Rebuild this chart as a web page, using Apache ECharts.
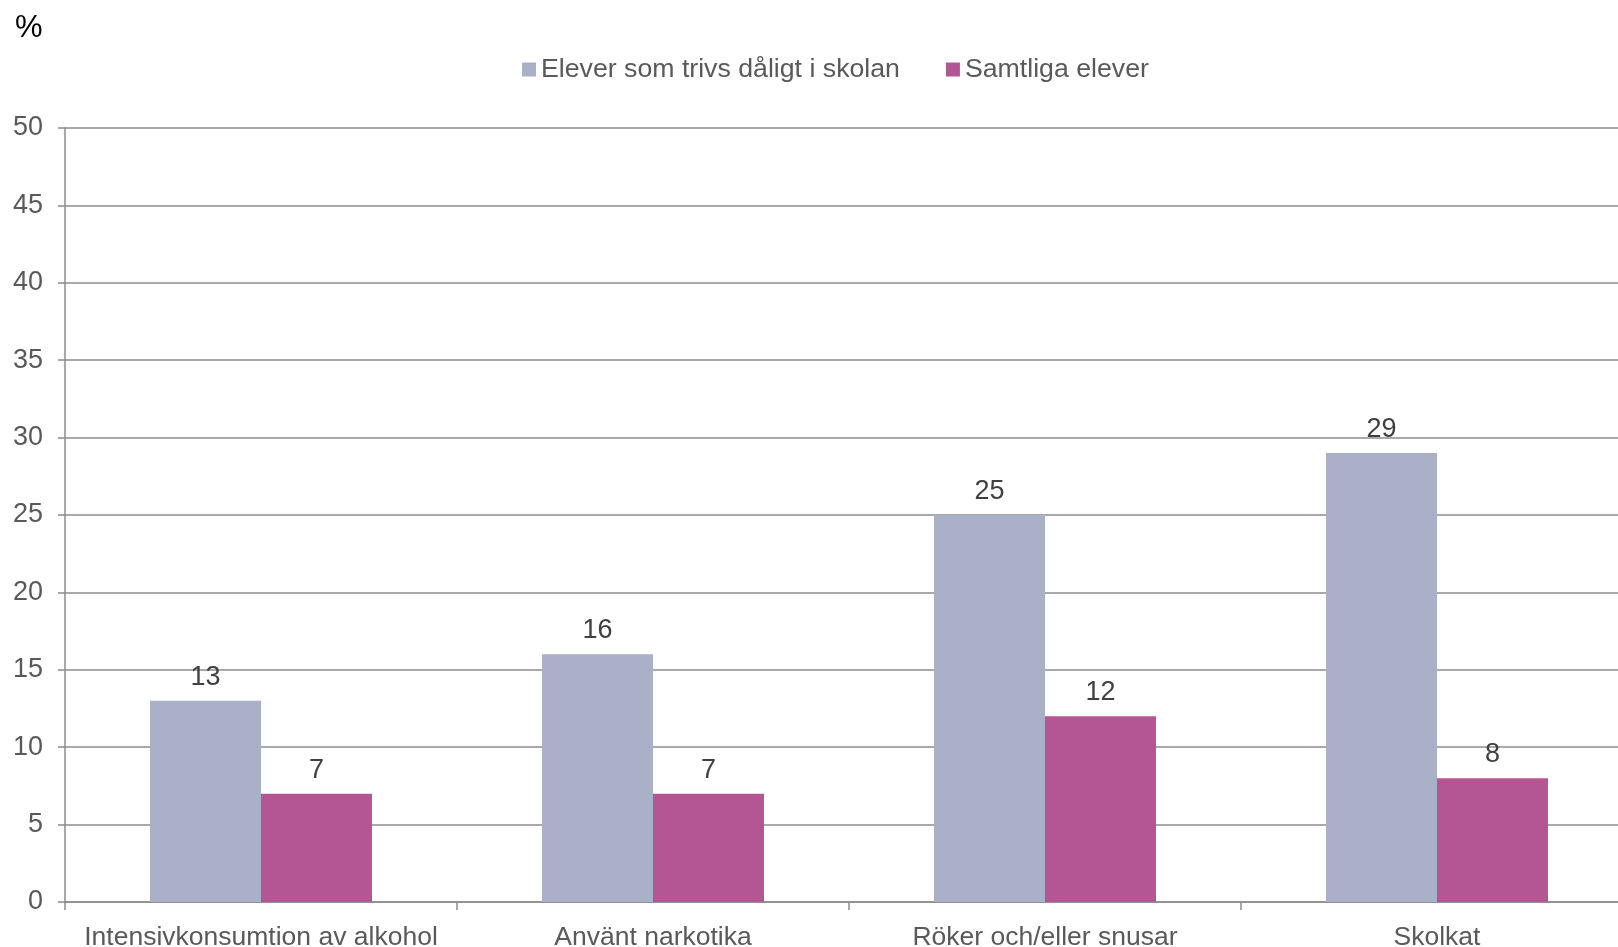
<!DOCTYPE html>
<html><head><meta charset="utf-8">
<script src="https://cdn.jsdelivr.net/npm/echarts@6/dist/echarts.min.js"></script>
<style>html,body{margin:0;padding:0;background:#fff}#c{width:1618px;height:947px}</style>
</head><body><div id="c"></div>
<script>
const categories = ['Intensivkonsumtion av alkohol', 'Använt narkotika', 'Röker och/eller snusar', 'Skolkat'];
const seriesNames = ['Elever som trivs dåligt i skolan', 'Samtliga elever'];
const trivsDaligt = [13, 16, 25, 29];
const samtliga = [7, 7, 12, 8];
const colors = ['#AAB0C7', '#B35693'];
const FONT = 'Liberation Sans, Arial, sans-serif';

const chart = echarts.init(document.getElementById('c'));
const labelCfg = { show: true, position: 'top', distance: 10, color: '#404040', fontSize: 27, fontFamily: FONT };
chart.setOption({
  animation: false,
  title: { text: '%', left: 10, top: 8, textStyle: { color: '#000', fontSize: 31, fontWeight: 'normal', fontFamily: FONT } },
  legend: {
    left: 517, top: 51, itemWidth: 14, itemHeight: 14, itemGap: 46,
    icon: 'rect',
    textStyle: { color: '#595959', fontSize: 26.7, fontFamily: FONT },
    data: seriesNames
  },
  grid: { left: 65, width: 1568, top: 128, bottom: 45, containLabel: false, outerBoundsMode: 'none' },
  xAxis: {
    type: 'category', data: categories,
    axisLine: { lineStyle: { color: '#8C8C8C', width: 1.5 } },
    axisTick: { show: true, interval: 0, length: 8, lineStyle: { color: '#8C8C8C', width: 1.5 } },
    axisLabel: { interval: 0, color: '#595959', fontSize: 26.5, fontFamily: FONT, margin: 22 }
  },
  yAxis: {
    type: 'value', min: 0, max: 50, interval: 5,
    axisLine: { show: true, lineStyle: { color: '#8C8C8C', width: 1.5 } },
    axisTick: { show: true, length: 7, lineStyle: { color: '#8C8C8C', width: 1.5 } },
    splitLine: { show: true, lineStyle: { color: '#8C8C8C', width: 1.5 } },
    axisLabel: { color: '#595959', fontSize: 27, fontFamily: FONT, margin: 22 }
  },
  series: [
    { name: seriesNames[0], type: 'bar', data: trivsDaligt, barWidth: 111, barGap: '0%', itemStyle: { color: colors[0] }, label: labelCfg },
    { name: seriesNames[1], type: 'bar', data: samtliga, barWidth: 111, barGap: '0%', itemStyle: { color: colors[1] }, label: labelCfg }
  ]
});
</script></body></html>
